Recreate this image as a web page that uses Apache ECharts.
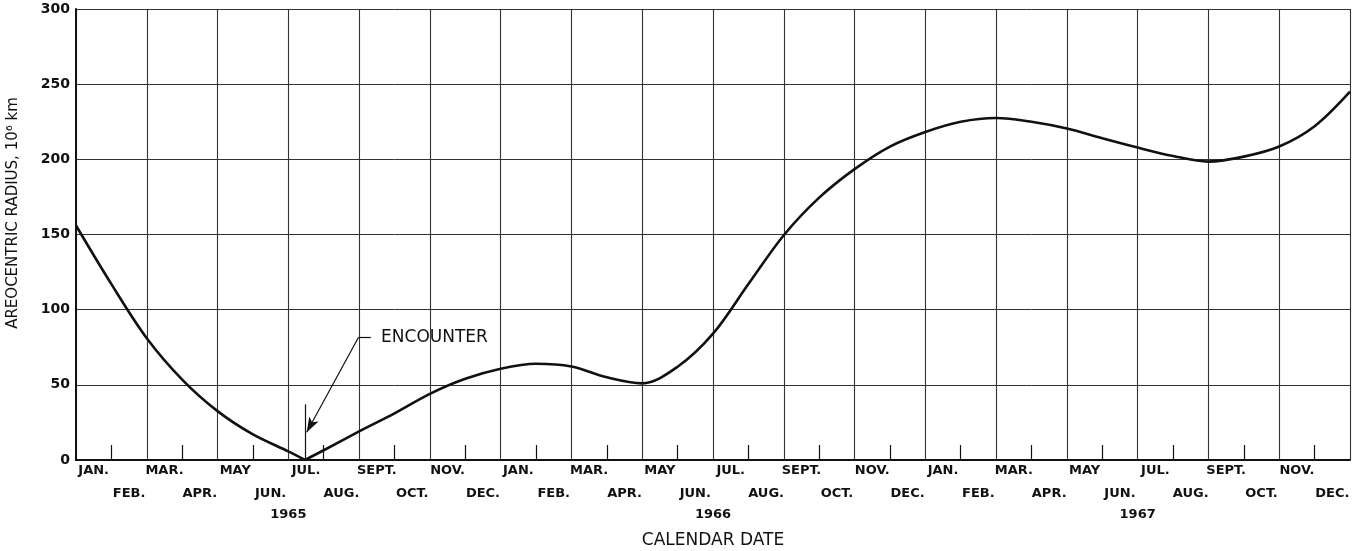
<!DOCTYPE html>
<html>
<head>
<meta charset="utf-8">
<title>Areocentric radius vs calendar date</title>
<script src="https://cdn.jsdelivr.net/npm/echarts@6.0.0/dist/echarts.min.js"></script>
<style>
  html, body { margin: 0; padding: 0; background: #fff; }
  #chart { width: 1365px; height: 551px; }
</style>
</head>
<body>
<div id="chart"></div>
<script>
// Month offsets counted from 1 January 1965.
const monthNames = ['JAN.', 'FEB.', 'MAR.', 'APR.', 'MAY', 'JUN.', 'JUL.', 'AUG.', 'SEPT.', 'OCT.', 'NOV.', 'DEC.'];
const years = ['1965', '1966', '1967'];
const yTicks = [0, 50, 100, 150, 200, 250, 300];

// Encounter: 15 July 1965
const encounterMonth = 6.47;

// Approach leg (radius in 10^6 km)
const approachMonths = [0, 1, 2, 3, 4, 5, 6, encounterMonth];
const approachRadius = [156, 117, 81, 53.5, 32.5, 17, 5.7, 0];

// Departure leg
const departMonths = [encounterMonth, 7, 8, 9, 10, 11, 12, 13, 14, 15, 16, 17, 18, 19, 20, 21, 22, 23,
  24, 25, 26, 27, 28, 29, 30, 31, 32, 33, 34, 35, 36];
const departRadius = [0, 6.5, 19, 31, 44, 54, 60.7, 64, 62.2, 55, 51, 62, 84, 117, 149.5, 174.5, 193.5, 208.5,
  218.2, 225, 227.5, 225, 220.5, 214, 207.8, 202.2, 198.5, 201.8, 208.5, 222, 245];

const calendarMonths = [].concat(...years.map(() => monthNames));
const yearMidMonths = years.map((y, i) => i * 12 + 6);

const ink = '#111';
const gridInk = '#333';

const pairs = (xs, ys) => xs.map((x, i) => [x, ys[i]]);

const chart = echarts.init(document.getElementById('chart'), null, { renderer: 'canvas' });

chart.setOption({
  animation: false,
  backgroundColor: '#fff',
  grid: { left: 76, right: 15, top: 9, bottom: 91, containLabel: false, outerBoundsMode: 'none' },
  xAxis: [
    {
      // month scale: grid every two months, short ticks between
      type: 'value', min: 0, max: 36, interval: 2,
      axisLine: { show: true, lineStyle: { color: ink, width: 2 } },
      axisTick: { show: false, inside: true },
      minorTick: { show: true, splitNumber: 2, length: 15, lineStyle: { color: ink, width: 1.2 } },
      axisLabel: { show: false },
      splitLine: { show: true, lineStyle: { color: gridInk, width: 1.1 } }
    },
    {
      // staggered month names centred in each month
      type: 'category', data: calendarMonths, boundaryGap: true, position: 'bottom',
      axisLine: { show: false }, axisTick: { show: false }, splitLine: { show: false },
      axisLabel: {
        interval: 0, margin: -1, lineHeight: 23,
        fontFamily: 'DejaVu Sans', fontWeight: 'bold', fontSize: 13, color: ink,
        formatter: (v, i) => (i % 2 ? '\n' + v : v)
      }
    },
    {
      // year labels and axis title
      type: 'value', min: 0, max: 36, position: 'bottom',
      axisLine: { show: false }, axisTick: { show: false }, splitLine: { show: false },
      axisLabel: {
        customValues: yearMidMonths, margin: 48,
        fontFamily: 'DejaVu Sans', fontWeight: 'bold', fontSize: 13, color: ink,
        formatter: (v) => years[yearMidMonths.indexOf(v)] || ''
      },
      name: 'CALENDAR DATE', nameLocation: 'middle', nameGap: 72,
      nameTextStyle: { fontFamily: 'DejaVu Sans', fontSize: 17, color: ink }
    }
  ],
  yAxis: {
    type: 'value', min: yTicks[0], max: yTicks[yTicks.length - 1], interval: 50,
    axisLine: { show: true, lineStyle: { color: ink, width: 2 } },
    axisTick: { show: false },
    axisLabel: { margin: 6, fontFamily: 'DejaVu Sans', fontWeight: 'bold', fontSize: 14, color: ink },
    splitLine: { show: true, lineStyle: { color: gridInk, width: 1 } }
  },
  graphic: [{
    type: 'text', x: 13, y: 213, rotation: Math.PI / 2,
    style: {
      text: 'AREOCENTRIC RADIUS, 10\u2076 km',
      font: '15px "DejaVu Sans"', fill: ink,
      align: 'center', verticalAlign: 'middle',
      textAlign: 'center', textVerticalAlign: 'middle'
    }
  }],
  series: [
    {
      type: 'line', xAxisIndex: 0, smooth: 0.33, showSymbol: false, silent: true,
      data: pairs(approachMonths, approachRadius),
      lineStyle: { color: ink, width: 2.6 }
    },
    {
      type: 'line', xAxisIndex: 0, smooth: 0.33, showSymbol: false, silent: true,
      data: pairs(departMonths, departRadius),
      lineStyle: { color: ink, width: 2.6 },
      markLine: {
        silent: true, symbol: 'none', label: { show: false },
        lineStyle: { color: ink, width: 1.2, type: 'solid' },
        data: [
          [{ coord: [encounterMonth, 0] }, { coord: [encounterMonth, 37] }],
          [{ coord: [7.98, 81.5] }, { coord: [8.33, 81.5] }],
          [{ coord: [7.98, 81.5], symbol: 'none' },
           { coord: [6.52, 18.5], symbol: 'arrow', symbolSize: [8, 15] }]
        ]
      },
      markPoint: {
        silent: true,
        data: [{
          coord: [8.62, 81.5], symbol: 'circle', symbolSize: 0,
          label: {
            show: true, position: 'right', distance: 0, formatter: 'ENCOUNTER',
            fontFamily: 'DejaVu Sans', fontSize: 17, color: ink
          }
        }]
      }
    }
  ]
});
</script>
</body>
</html>
